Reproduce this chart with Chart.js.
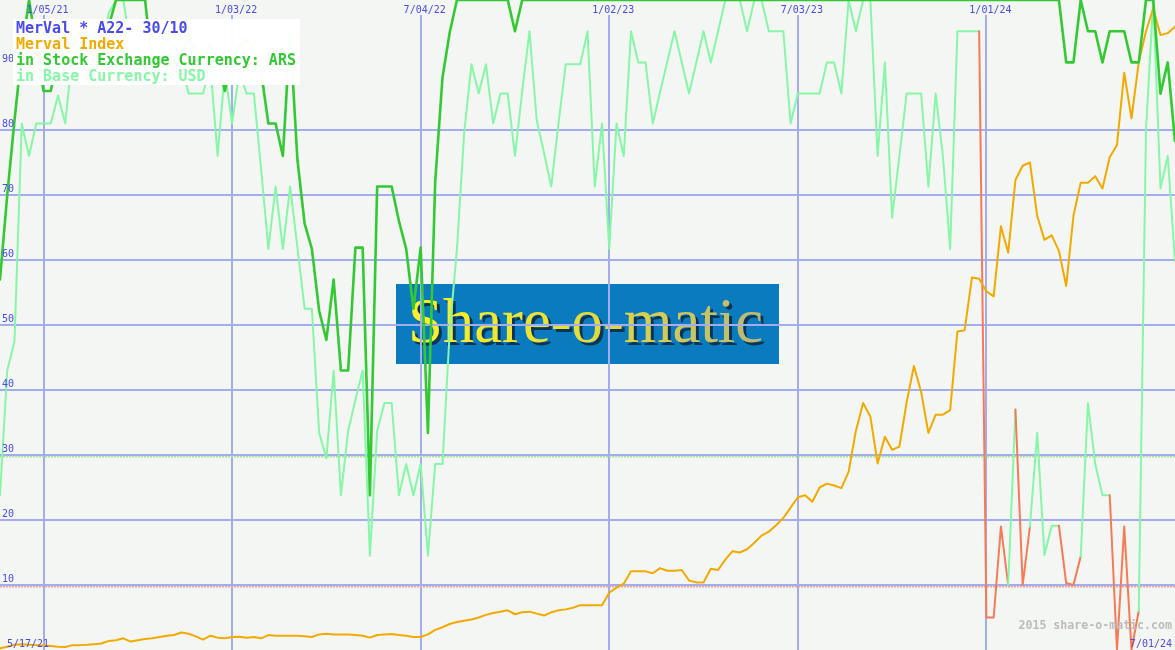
<!DOCTYPE html>
<html><head><meta charset="utf-8">
<script src="https://cdn.jsdelivr.net/npm/chart.js@4.4.1/dist/chart.umd.min.js"></script>
<style>html,body{margin:0;padding:0;background:#f4f6f3;overflow:hidden}canvas{display:block}</style>
</head><body>
<canvas id="c" width="1175" height="650"></canvas>
<script>
// Weekly values, 5/17/21 .. 7/01/24
const merval = [
  0.25, 0.5, 0.8, 0.9, 0.8, 0.75, 0.7, 0.6, 0.5, 0.45,
  0.75, 0.75, 0.8, 0.9, 1.0, 1.4, 1.5, 1.8, 1.3, 1.5,
  1.7, 1.8, 2.0, 2.2, 2.3, 2.7, 2.5, 2.1, 1.6, 2.2,
  1.9, 1.8, 2.0, 2.05, 1.9, 2.0, 1.8, 2.3, 2.2, 2.2,
  2.2, 2.2, 2.1, 2.0, 2.4, 2.5, 2.4, 2.4, 2.4, 2.3,
  2.2, 1.9, 2.3, 2.4, 2.45, 2.3, 2.2, 2.0, 2.0, 2.4,
  3.1, 3.5, 4.0, 4.3, 4.5, 4.7, 5.0, 5.4, 5.7, 5.9,
  6.1, 5.5, 5.8, 5.9, 5.6, 5.3, 5.8, 6.1, 6.25, 6.5,
  6.9, 6.9, 6.9, 6.9, 8.8, 9.6, 10.2, 12.1, 12.1, 12.1,
  11.8, 12.6, 12.2, 12.2, 12.3, 10.7, 10.4, 10.4, 12.5, 12.3,
  13.9, 15.2, 15.0, 15.5, 16.5, 17.6, 18.2, 19.2, 20.3, 21.9,
  23.5, 23.8, 22.8, 25, 25.6, 25.3, 24.9, 27.4, 33.7, 38,
  35.9, 28.7, 32.8, 30.8, 31.3, 38.1, 43.7, 39.7, 33.4, 36.2,
  36.2, 36.9, 49, 49.2, 57.3, 57.1, 55.2, 54.4, 65.2, 61.1,
  72.3, 74.5, 75, 66.8, 63.1, 63.8, 61.4, 56, 66.8, 71.9,
  71.9, 72.9, 71, 75.8, 77.7, 88.8, 81.8, 90.4, 95.2, 98.7,
  94.6, 94.9, 95.9
];
const ars = [
  57, 70, 81.5, 92, 100, 93, 86, 86, 92, 94,
  93, 95, 94, 95, 94, 96, 100, 100, 100, 100,
  100, 90, 92, 91, 93, 92, 94, 92, 91, 93,
  91, 86, 91, 93, 94, 92, 89, 81, 81, 76,
  95, 75.5, 65.6, 61.7, 52.2, 47.7, 57, 43, 43, 61.9,
  61.9, 23.8, 71.3, 71.3, 71.3, 66, 61.7, 52.5, 61.9, 33.4,
  72, 88, 95, 100, 100, 100, 100, 100, 100, 100,
  100, 95.2, 100, 100, 100, 100, 100, 100, 100, 100,
  100, 100, 100, 100, 100, 100, 100, 100, 100, 100,
  100, 100, 100, 100, 100, 100, 100, 100, 100, 100,
  100, 100, 100, 100, 100, 100, 100, 100, 100, 100,
  100, 100, 100, 100, 100, 100, 100, 100, 100, 100,
  100, 100, 100, 100, 100, 100, 100, 100, 100, 100,
  100, 100, 100, 100, 100, 100, 100, 100, 100, 100,
  100, 100, 100, 100, 100, 100, 100, 90.4, 90.4, 100,
  95.2, 95.2, 90.4, 95.2, 95.2, 95.2, 90.4, 90.4, 100, 100,
  85.6, 90.4, 78.3
];
const usd = [
  23.8, 43, 47.5, 81, 76, 81, 81, 81, 85.3, 81,
  92, 93, 91, 94, 93, 98, 100, 100, 93, 91,
  93, 90, 92, 94, 92, 90, 85.6, 85.6, 85.6, 90,
  76, 89, 81, 89, 85.6, 85.6, 74, 61.7, 71.3, 61.7,
  71.3, 62, 52.5, 52.5, 33.4, 29.5, 43, 23.8, 33.7, 38.5,
  43, 14.5, 33.7, 38, 38, 23.8, 28.6, 23.8, 28.6, 14.5,
  28.6, 28.6, 49, 61.7, 79.6, 90.1, 85.6, 90.1, 81, 85.6,
  85.6, 76, 86, 95.2, 81.5, 76.5, 71.3, 81, 90.1, 90.1,
  90.1, 95.2, 71.3, 81, 61.7, 81, 76, 95.2, 90.4, 90.4,
  81, 85.8, 90.5, 95.2, 90.4, 85.6, 90.4, 95.2, 90.4, 95.2,
  100, 100, 100, 95.2, 100, 100, 95.2, 95.2, 95.2, 81,
  85.6, 85.6, 85.6, 85.6, 90.4, 90.4, 85.6, 100, 95.2, 100,
  100, 76, 90.4, 66.5, 76, 85.6, 85.6, 85.6, 71.3, 85.6,
  76, 61.7, 95.2, 95.2, 95.2, 95.2, 5, 5, 19, 10,
  37, 10, 19, 33.4, 14.6, 19.1, 19.1, 10.3, 10, 14.4,
  38, 28.6, 23.8, 23.8, 0, 19, 0, 6, 80, 100,
  71, 76, 59.8
];
// week ranges where the USD line is in the "sell" (red) state
const usdRedRanges = [[135, 139], [140, 142], [146, 149], [153, 157]];
const weeks = merval.map((_, i) => i);
const gridValues = [10, 20, 30, 40, 50, 60, 70, 80];
const yTickValues = [10, 20, 30, 40, 50, 60, 70, 80, 90];
const topTickWeeks = [6, 32, 58, 84, 110, 136];
const topTickLabels = ['1/05/21', '1/03/22', '7/04/22', '1/02/23', '7/03/23', '1/01/24'];
const startLabel = '5/17/21';
const endLabel = '7/01/24';
const buyLevel = 30;
const sellLevel = 10;
const titleText = 'MerVal * A22- 30/10';
const legendTexts = ['Merval Index', 'in Stock Exchange Currency: ARS', 'in Base Currency: USD'];

const BG = '#f4f6f3';
const GRID = '#a3acee';
const BLUE = '#4a4aee';
const ORANGE = '#f2aa00';
const DGREEN = '#33c933';
const LGREEN = '#86f7a6';
const RED = '#f77a55';
const MONO = '"DejaVu Sans Mono", "Liberation Mono", monospace';

const inRed = i => usdRedRanges.some(([a, b]) => i >= a && i < b);

const deco = {
  id: 'deco',
  beforeDatasetsDraw(chart) {
    const {ctx, width, height} = chart;
    const x = chart.scales.x, y = chart.scales.y;
    ctx.save();
    ctx.fillStyle = BG;
    ctx.fillRect(0, 0, width, height);
    // logo
    ctx.fillStyle = '#0b7bbf';
    ctx.fillRect(396, 284, 383, 80);
    const logo = 'Share-o-matic';
    let fs = 62;
    ctx.font = fs + 'px "Liberation Serif", "DejaVu Serif", serif';
    fs = fs * 355 / ctx.measureText(logo).width;
    ctx.font = fs.toFixed(1) + 'px "Liberation Serif", "DejaVu Serif", serif';
    ctx.textBaseline = 'alphabetic';
    ctx.textAlign = 'left';
    ctx.fillStyle = 'rgba(10,30,50,0.75)';
    ctx.fillText(logo, 411, 345);
    const g = ctx.createLinearGradient(408, 300, 765, 342);
    g.addColorStop(0, '#fbf224');
    g.addColorStop(0.45, '#e6df3a');
    g.addColorStop(1, '#b9b77a');
    ctx.fillStyle = g;
    ctx.fillText(logo, 408, 342);
    // grid
    ctx.strokeStyle = GRID;
    ctx.lineWidth = 2;
    gridValues.forEach(v => {
      const py = Math.round(y.getPixelForValue(v));
      ctx.beginPath(); ctx.moveTo(0, py); ctx.lineTo(width, py); ctx.stroke();
    });
    topTickWeeks.forEach(w => {
      const px = Math.round(x.getPixelForValue(w));
      ctx.beginPath(); ctx.moveTo(px, 15); ctx.lineTo(px, height); ctx.stroke();
    });
    // threshold lines
    ctx.lineWidth = 1.5;
    ctx.setLineDash([2, 1]);
    [[buyLevel, '#9fe89a'], [sellLevel, '#f2a0a0']].forEach(([v, col]) => {
      const py = Math.round(y.getPixelForValue(v)) + 1.8;
      ctx.strokeStyle = col;
      ctx.beginPath(); ctx.moveTo(0, py); ctx.lineTo(width, py); ctx.stroke();
    });
    ctx.setLineDash([]);
    ctx.restore();
  },
  afterDatasetsDraw(chart) {
    const {ctx, width, height} = chart;
    const x = chart.scales.x, y = chart.scales.y;
    ctx.save();
    // axis labels
    ctx.font = '10px ' + MONO;
    ctx.fillStyle = BLUE;
    ctx.textAlign = 'left';
    ctx.textBaseline = 'alphabetic';
    yTickValues.forEach(v => {
      const py = Math.round(y.getPixelForValue(v));
      ctx.fillText(String(v), 2, py - 3);
    });
    ctx.textAlign = 'center';
    topTickWeeks.forEach((w, k) => {
      ctx.fillText(topTickLabels[k], x.getPixelForValue(w) + 4, 13);
    });
    ctx.textAlign = 'left';
    ctx.fillText(startLabel, 7, 647);
    ctx.textAlign = 'right';
    ctx.fillText(endLabel, 1172, 647);
    // copyright
    ctx.font = 'bold 11.6px ' + MONO;
    ctx.fillStyle = '#bcbcbc';
    ctx.fillText('2015 share-o-matic.com', 1172, 629);
    // legend box
    ctx.fillStyle = 'rgba(255,255,255,0.97)';
    ctx.fillRect(13, 19, 287, 66);
    ctx.textAlign = 'left';
    ctx.font = 'bold 15px ' + MONO;
    ctx.fillStyle = BLUE;
    ctx.fillText(titleText, 16, 33);
    [ORANGE, DGREEN, LGREEN].forEach((col, k) => {
      ctx.fillStyle = col;
      ctx.fillText(legendTexts[k], 16, 49 + 16 * k);
    });
    ctx.restore();
  }
};

new Chart(document.getElementById('c'), {
  type: 'line',
  data: {
    labels: weeks,
    datasets: [
      {label: legendTexts[1], data: ars, borderColor: DGREEN, borderWidth: 2.6, order: 1},
      {label: legendTexts[0], data: merval, borderColor: ORANGE, borderWidth: 2, order: 2},
      {label: legendTexts[2], data: usd, borderColor: LGREEN, borderWidth: 2, order: 3,
       segment: {borderColor: c => inRed(c.p0DataIndex) ? RED : LGREEN}}
    ]
  },
  options: {
    responsive: false,
    animation: false,
    devicePixelRatio: 1,
    layout: {padding: 0},
    elements: {point: {radius: 0}, line: {tension: 0, borderJoinStyle: 'round', borderCapStyle: 'round'}},
    plugins: {legend: {display: false}, tooltip: {enabled: false}},
    scales: {
      x: {type: 'linear', min: 0, max: weeks.length - 1, display: false},
      y: {min: 0, max: 100, display: false}
    }
  },
  plugins: [deco]
});
</script>
</body></html>
